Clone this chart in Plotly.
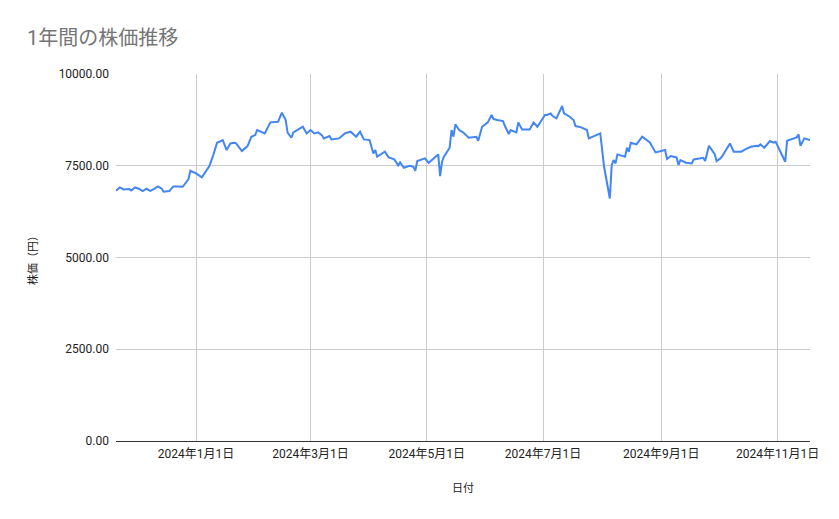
import plotly.graph_objects as go

# 日付と株価 (チャートから読み取った概算値)
dates = [
    "2023-11-20", "2023-11-22", "2023-11-24", "2023-11-27", "2023-11-28", "2023-11-30",
    "2023-12-02", "2023-12-04", "2023-12-06", "2023-12-08", "2023-12-10", "2023-12-12",
    "2023-12-14", "2023-12-15", "2023-12-18", "2023-12-20", "2023-12-22", "2023-12-25",
    "2023-12-27", "2023-12-28", "2023-12-29", "2024-01-01", "2024-01-04", "2024-01-06",
    "2024-01-08", "2024-01-10", "2024-01-12", "2024-01-15", "2024-01-17", "2024-01-19",
    "2024-01-21", "2024-01-22", "2024-01-24", "2024-01-25", "2024-01-28", "2024-01-30",
    "2024-02-01", "2024-02-02", "2024-02-06", "2024-02-09", "2024-02-13", "2024-02-15",
    "2024-02-17", "2024-02-18", "2024-02-20", "2024-02-21", "2024-02-26", "2024-02-28",
    "2024-03-01", "2024-03-03", "2024-03-05", "2024-03-07", "2024-03-08", "2024-03-11",
    "2024-03-12", "2024-03-16", "2024-03-19", "2024-03-21", "2024-03-22", "2024-03-25",
    "2024-03-27", "2024-03-29", "2024-04-01", "2024-04-03", "2024-04-04", "2024-04-05",
    "2024-04-09", "2024-04-11", "2024-04-14", "2024-04-16", "2024-04-17", "2024-04-19",
    "2024-04-22", "2024-04-24", "2024-04-25", "2024-04-26", "2024-04-30", "2024-05-02",
    "2024-05-06", "2024-05-07", "2024-05-08", "2024-05-09", "2024-05-10", "2024-05-13",
    "2024-05-14", "2024-05-15", "2024-05-16", "2024-05-18", "2024-05-20", "2024-05-23",
    "2024-05-27", "2024-05-28", "2024-05-30", "2024-06-02", "2024-06-04", "2024-06-05",
    "2024-06-07", "2024-06-10", "2024-06-11", "2024-06-13", "2024-06-14", "2024-06-17",
    "2024-06-18", "2024-06-20", "2024-06-24", "2024-06-26", "2024-06-28", "2024-07-02",
    "2024-07-03", "2024-07-05", "2024-07-06", "2024-07-08", "2024-07-11", "2024-07-12",
    "2024-07-15", "2024-07-17", "2024-07-18", "2024-07-21", "2024-07-24", "2024-07-25",
    "2024-07-31", "2024-08-01", "2024-08-02", "2024-08-05", "2024-08-06", "2024-08-07",
    "2024-08-08", "2024-08-09", "2024-08-13", "2024-08-14", "2024-08-15", "2024-08-16",
    "2024-08-19", "2024-08-22", "2024-08-26", "2024-08-29", "2024-09-02", "2024-09-03",
    "2024-09-04", "2024-09-06", "2024-09-09", "2024-09-10", "2024-09-11", "2024-09-14",
    "2024-09-17", "2024-09-18", "2024-09-23", "2024-09-24", "2024-09-26", "2024-09-29",
    "2024-09-30", "2024-10-02", "2024-10-03", "2024-10-07", "2024-10-09", "2024-10-13",
    "2024-10-15", "2024-10-18", "2024-10-21", "2024-10-22", "2024-10-23", "2024-10-25",
    "2024-10-28", "2024-10-30", "2024-10-31", "2024-11-02", "2024-11-05", "2024-11-06",
    "2024-11-11", "2024-11-12", "2024-11-13", "2024-11-15", "2024-11-18",
]
prices = [
    6818, 6909, 6855, 6864, 6827, 6909,
    6873, 6809, 6873, 6818, 6873, 6936,
    6873, 6791, 6809, 6936, 6936, 6927,
    7064, 7136, 7364, 7291, 7182, 7336,
    7491, 7791, 8127, 8200, 7927, 8109,
    8127, 8109, 7955, 7900, 8036, 8291,
    8336, 8473, 8382, 8682, 8700, 8945,
    8745, 8400, 8263, 8409, 8563, 8382,
    8473, 8382, 8409, 8336, 8245, 8309,
    8218, 8245, 8382, 8400, 8427, 8291,
    8427, 8218, 8200, 7836, 7927, 7745,
    7882, 7727, 7673, 7509, 7591, 7445,
    7500, 7473, 7364, 7627, 7700, 7582,
    7745, 7809, 7218, 7609, 7745, 7991,
    8473, 8291, 8627, 8473, 8409, 8263,
    8291, 8182, 8563, 8682, 8882, 8773,
    8745, 8718, 8582, 8364, 8473, 8409,
    8682, 8491, 8491, 8682, 8563, 8882,
    8882, 8927, 8855, 8791, 9127, 8927,
    8836, 8745, 8582, 8545, 8473, 8245,
    8382, 7927, 7473, 6609, 7518, 7655,
    7564, 7809, 7745, 7991, 7882, 8127,
    8082, 8291, 8136, 7864, 7927, 7927,
    7682, 7764, 7727, 7518, 7655, 7582,
    7564, 7673, 7718, 7627, 8045, 7818,
    7627, 7700, 7764, 8109, 7882, 7882,
    7945, 8018, 8045, 8036, 8082, 7991,
    8173, 8127, 8154, 7927, 7609, 8182,
    8273, 8354, 8045, 8245, 8200,
]

tick_dates = ["2024-01-01", "2024-03-01", "2024-05-01", "2024-07-01", "2024-09-01", "2024-11-01"]
tick_labels = ["2024年1月1日", "2024年3月1日", "2024年5月1日", "2024年7月1日", "2024年9月1日", "2024年11月1日"]
y_ticks = [0, 2500, 5000, 7500, 10000]

font_family = "Roboto, 'Noto Sans CJK JP', sans-serif"

fig = go.Figure()
fig.add_trace(go.Scatter(
    x=dates, y=prices,
    mode="lines",
    line=dict(color="#4285F4", width=2),
    name="株価",
    showlegend=False,
))

# the page body has an 8px margin, so the figure is a bit smaller than the window
fig.update_layout(
    width=823, height=503,
    margin=dict(l=108, r=18, t=66, b=70),
    plot_bgcolor="white",
    paper_bgcolor="white",
    font=dict(family=font_family, size=12, color="#222222"),
    title=dict(
        text="1年間の株価推移",
        x=0.023, xanchor="left",
        y=0.94, yanchor="middle",
        font=dict(family=font_family, size=20, color="#757575"),
    ),
    xaxis=dict(
        range=[dates[0], dates[-1]],
        tickvals=tick_dates,
        ticktext=tick_labels,
        showgrid=True,
        gridcolor="#cccccc",
        gridwidth=1,
        showline=False,
        zeroline=False,
        ticks="",
        ticklabelstandoff=4,
        tickfont=dict(size=12, color="#222222"),
        title=dict(text="日付", font=dict(size=11, color="#222222"), standoff=24),
    ),
    yaxis=dict(
        range=[0, 10000],
        tickvals=y_ticks,
        tickformat=".2f",
        showgrid=True,
        gridcolor="#cccccc",
        gridwidth=1,
        zeroline=True,
        zerolinecolor="#333333",
        zerolinewidth=1,
        ticks="",
        ticklabelstandoff=6,
        tickfont=dict(size=12, color="#222222"),
        title=dict(text="株価（円）", font=dict(size=11, color="#222222"), standoff=18),
    ),
)

fig.write_html("out.html")
